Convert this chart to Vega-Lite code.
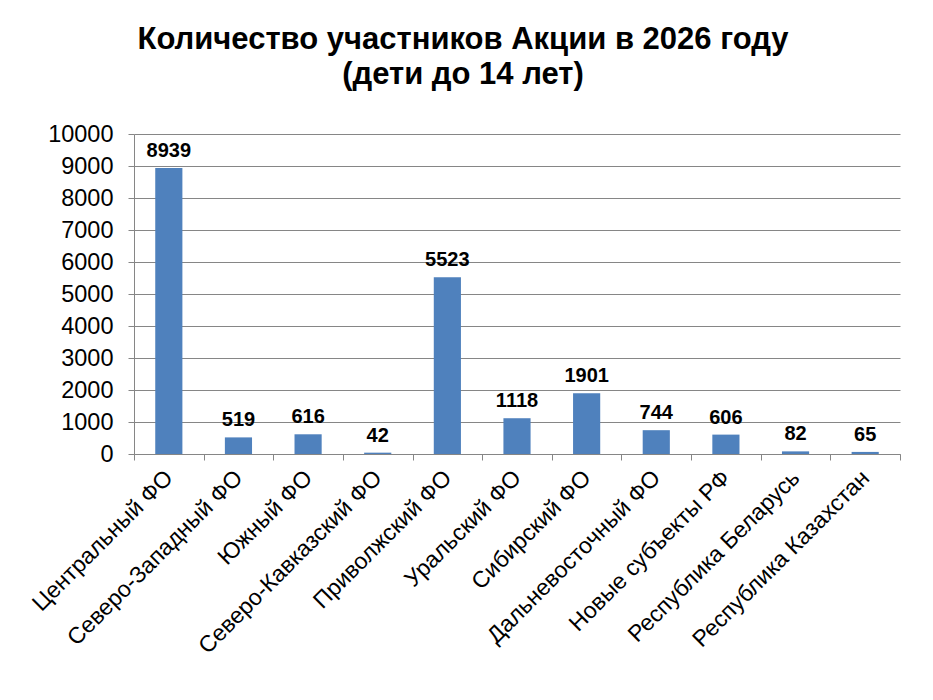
{
  "$schema": "https://vega.github.io/schema/vega-lite/v6.json",
  "autosize": "none",
  "width": 766,
  "height": 320,
  "padding": {"left": 134, "top": 134, "right": 33, "bottom": 246},
  "background": "white",
  "title": {
    "text": ["Количество участников Акции в 2026 году", "(дети до 14 лет)"],
    "font": "Liberation Sans",
    "fontSize": 31,
    "fontWeight": "bold",
    "color": "black",
    "anchor": "middle",
    "dx": -54,
    "offset": 31,
    "lineHeight": 35
  },
  "data": {
    "values": [
      {"region": "Центральный ФО", "count": 8939},
      {"region": "Северо-Западный ФО", "count": 519},
      {"region": "Южный ФО", "count": 616},
      {"region": "Северо-Кавказский ФО", "count": 42},
      {"region": "Приволжский ФО", "count": 5523},
      {"region": "Уральский ФО", "count": 1118},
      {"region": "Сибирский ФО", "count": 1901},
      {"region": "Дальневосточный ФО", "count": 744},
      {"region": "Новые субъекты РФ", "count": 606},
      {"region": "Республика Беларусь", "count": 82},
      {"region": "Республика Казахстан", "count": 65}
    ]
  },
  "encoding": {
    "x": {
      "field": "region",
      "type": "nominal",
      "sort": null,
      "scale": {"paddingInner": 0, "paddingOuter": 0},
      "axis": {
        "title": null,
        "labelAngle": -45,
        "labelAlign": "right",
        "labelBaseline": "middle",
        "labelFont": "Liberation Sans",
        "labelFontSize": 23,
        "labelColor": "black",
        "labelPadding": 14,
        "labelLimit": 400,
        "tickBand": "extent",
        "tickSize": 6,
        "tickColor": "#868686",
        "domainColor": "#868686",
        "grid": false
      }
    },
    "y": {
      "field": "count",
      "type": "quantitative",
      "scale": {"domain": [0, 10000]},
      "axis": {
        "title": null,
        "values": [0, 1000, 2000, 3000, 4000, 5000, 6000, 7000, 8000, 9000, 10000],
        "format": "d",
        "labelFont": "Liberation Sans",
        "labelFontSize": 23.5,
        "labelColor": "black",
        "labelPadding": 15,
        "tickSize": 6,
        "tickColor": "#868686",
        "domainColor": "#868686",
        "grid": true,
        "gridColor": "#868686"
      }
    }
  },
  "layer": [
    {
      "mark": {"type": "bar", "color": "#4F81BD", "width": {"band": 0.39}}
    },
    {
      "mark": {
        "type": "text",
        "baseline": "bottom",
        "dy": -7,
        "font": "Liberation Sans",
        "fontSize": 20,
        "fontWeight": "bold",
        "color": "black"
      },
      "encoding": {"text": {"field": "count", "type": "quantitative"}}
    }
  ],
  "config": {"view": {"stroke": null}}
}
